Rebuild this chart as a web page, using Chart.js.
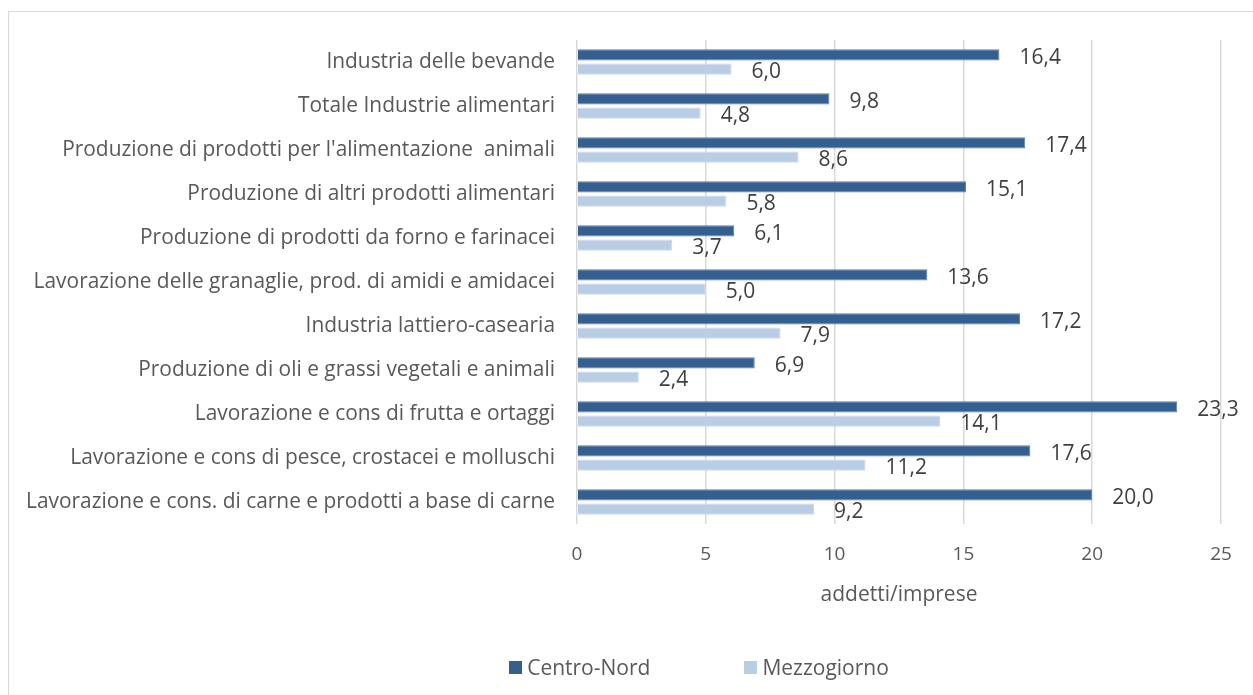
<!DOCTYPE html>
<html>
<head>
<meta charset="utf-8">
<script src="https://cdn.jsdelivr.net/npm/chart.js@4.4.1/dist/chart.umd.min.js"></script>
<style>
  html, body { margin: 0; padding: 0; background: #fff; overflow: hidden; }
  #frame {
    position: absolute; left: 8px; top: 11px; width: 1382px; height: 720px;
    border: 1px solid #d9d9d9; box-sizing: border-box;
  }
  #wrap { position: absolute; left: 0; top: 0; width: 1380px; height: 683px; }
  #legend {
    position: absolute; left: 0; top: 641px; width: 1380px;
    display: flex; justify-content: center;
    font-family: "Open Sans", sans-serif; font-size: 21px; color: #595959;
  }
  .item { display: flex; align-items: center; }
  .item + .item { margin-left: 94px; }
  .box { width: 13px; height: 13px; margin-right: 5px; }
</style>
</head>
<body>
<div id="frame">
  <div id="wrap"><canvas id="myChart"></canvas></div>
  <div id="legend"></div>
</div>
<script>
const categories = [
  "Industria delle bevande",
  "Totale Industrie alimentari",
  "Produzione di prodotti per l'alimentazione  animali",
  "Produzione di altri prodotti alimentari",
  "Produzione di prodotti da forno e farinacei",
  "Lavorazione delle granaglie, prod. di amidi e amidacei",
  "Industria lattiero-casearia",
  "Produzione di oli e grassi vegetali e animali",
  "Lavorazione e cons di frutta e ortaggi",
  "Lavorazione e cons di pesce, crostacei e molluschi",
  "Lavorazione e cons. di carne e prodotti a base di carne"
];
const centroNord = [16.4, 9.8, 17.4, 15.1, 6.1, 13.6, 17.2, 6.9, 23.3, 17.6, 20.0];
const mezzogiorno = [6.0, 4.8, 8.6, 5.8, 3.7, 5.0, 7.9, 2.4, 14.1, 11.2, 9.2];
const xTicks = [0, 5, 10, 15, 20, 25];
const axisTitle = "addetti/imprese";

const textColor = "#595959";
const fontFamily = "'Open Sans', sans-serif";

// value labels next to each bar, Italian decimal comma
const valueLabels = {
  id: "valueLabels",
  afterDatasetsDraw(chart) {
    const ctx = chart.ctx;
    ctx.save();
    ctx.font = "21px " + fontFamily;
    ctx.fillStyle = "#404040";
    ctx.textAlign = "left";
    ctx.textBaseline = "middle";
    chart.data.datasets.forEach((ds, i) => {
      chart.getDatasetMeta(i).data.forEach((bar, j) => {
        const txt = ds.data[j].toFixed(1).replace(".", ",");
        ctx.fillText(txt, bar.x + 20, bar.y + 3);
      });
    });
    ctx.restore();
  }
};

const chart = new Chart("myChart", {
  type: "bar",
  data: {
    labels: categories,
    datasets: [
      {
        label: "Centro-Nord",
        data: centroNord,
        backgroundColor: "#365f91",
        borderColor: "#5b7fab",
        borderWidth: 1,
        barPercentage: 0.8,
        categoryPercentage: 0.64
      },
      {
        label: "Mezzogiorno",
        data: mezzogiorno,
        backgroundColor: "#b9cde5",
        borderColor: "#c8d8ec",
        borderWidth: 1,
        barPercentage: 0.8,
        categoryPercentage: 0.64
      }
    ]
  },
  options: {
    indexAxis: "y",
    responsive: true,
    maintainAspectRatio: false,
    animation: false,
    layout: { padding: { top: 28, right: 168, bottom: 75, left: 0 } },
    plugins: {
      legend: { display: false },
      tooltip: { enabled: false }
    },
    scales: {
      x: {
        min: 0,
        max: 25,
        afterBuildTicks: (scale) => {
          scale.ticks = xTicks.map((v) => ({ value: v }));
        },
        afterFit: (scale) => { scale.height = 96; },
        grid: { color: "#d9d9d9", lineWidth: 1.5, drawTicks: false },
        border: { display: false },
        ticks: {
          color: textColor,
          padding: 19,
          font: { family: fontFamily, size: 19 }
        },
        title: {
          display: true,
          text: axisTitle,
          color: textColor,
          padding: { top: 0, bottom: 12 },
          font: { family: fontFamily, size: 21 }
        }
      },
      y: {
        afterFit: (scale) => { scale.width = 568; },
        grid: { display: false },
        border: { display: false },
        ticks: {
          color: textColor,
          padding: 14,
          font: { family: fontFamily, size: 20.9 }
        }
      }
    }
  },
  plugins: [valueLabels]
});

// legend built from the chart's own datasets
const legendEl = document.getElementById("legend");
chart.data.datasets.forEach((ds) => {
  const item = document.createElement("div");
  item.className = "item";
  const box = document.createElement("span");
  box.className = "box";
  box.style.background = ds.backgroundColor;
  const label = document.createElement("span");
  label.textContent = ds.label;
  item.appendChild(box);
  item.appendChild(label);
  legendEl.appendChild(item);
});
</script>
</body>
</html>
